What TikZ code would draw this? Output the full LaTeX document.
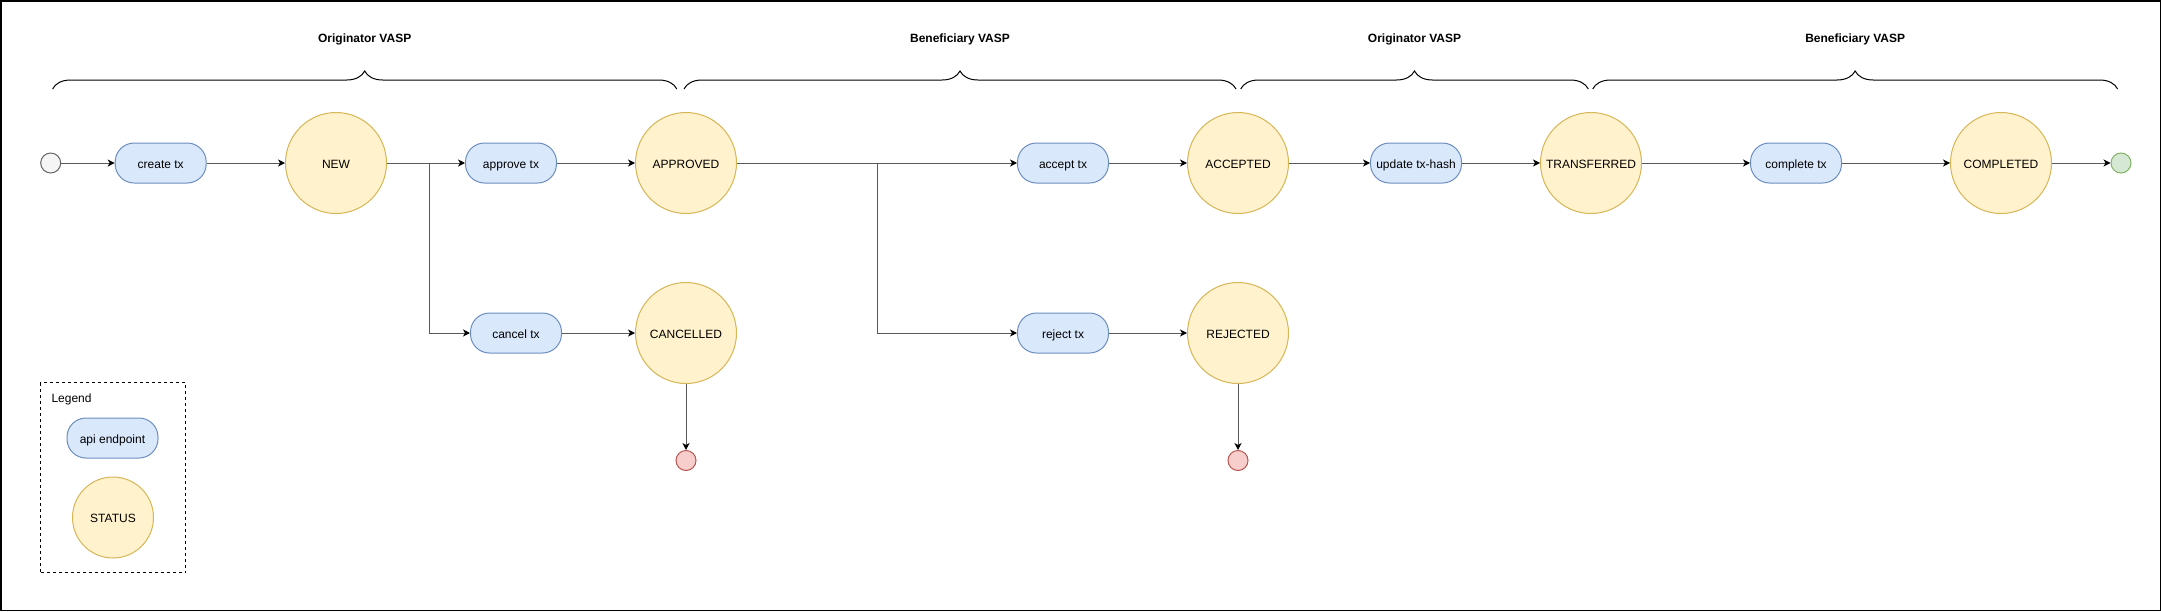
\documentclass[tikz,border=0pt]{standalone}
\usepackage{fontspec}
\setmainfont{Liberation Sans}
\usetikzlibrary{arrows.meta,decorations.pathreplacing}

\definecolor{apifill}{HTML}{DAE8FC}
\definecolor{apiline}{HTML}{6C8EBF}
\definecolor{statfill}{HTML}{FFF2CC}
\definecolor{statline}{HTML}{D6B656}
\definecolor{stopfill}{HTML}{F8CECC}
\definecolor{stopline}{HTML}{B85450}
\definecolor{donefill}{HTML}{D5E8D4}
\definecolor{doneline}{HTML}{82B366}
\definecolor{initfill}{HTML}{F5F5F5}
\definecolor{initline}{HTML}{666666}

\def\mainrow{163}
\def\sidrow{333}

\begin{document}
\begin{tikzpicture}[x=1pt,y=-1pt,line width=1pt,font=\fontsize{12pt}{14pt}\selectfont]
    \tikzstyle{edge}=[draw=black!65,-{Stealth[length=7pt,width=7pt,inset=2pt,color=black]}]
    \tikzstyle{label}=[text height=11pt,text depth=1pt]
    \tikzstyle{api}=[label,rectangle,rounded corners=19pt,draw=apiline,fill=apifill,minimum width=91pt,minimum height=40pt,inner sep=0pt]
    \tikzstyle{status}=[label,circle,draw=statline,fill=statfill,minimum size=101pt,inner sep=0pt]
    \tikzstyle{dot}=[circle,minimum size=20pt,inner sep=0pt]
    \tikzstyle{stop}=[dot,draw=stopline,fill=stopfill]
    \tikzstyle{brace}=[draw=black,decorate,decoration={brace,amplitude=18pt}]
    \tikzstyle{title}=[midway,yshift=50pt,font=\fontsize{12pt}{14pt}\selectfont\bfseries]

    \useasboundingbox (0,0) rectangle (2161,611);
    \draw[line width=1.5pt] (0.75,0.75) rectangle (2160.25,610.25);

    % swimlane braces
    \foreach \l/\r/\txt [count=\i] in {52.6/676.8/Originator VASP, 684/1236/Beneficiary VASP,
            1240.7/1588.3/Originator VASP, 1592.7/2117.6/Beneficiary VASP}
        \draw[brace] (\l,89) -- (\r,89) node[title] (lane-\i) {\txt};

    % api endpoints
    \foreach \name/\x/\txt in {create/160.7/create tx, approve/511/approve tx, accept/1063/accept tx,
            update/1416/update tx-hash, complete/1796/complete tx}
        \node[api] (\name) at (\x,\mainrow) {\txt};
    \foreach \name/\x/\txt in {cancel/516/cancel tx, reject/1063/reject tx}
        \node[api] (\name) at (\x,\sidrow) {\txt};

    % states
    \foreach \name/\x in {NEW/336, APPROVED/686, ACCEPTED/1238, TRANSFERRED/1591, COMPLETED/2001}
        \node[status] (\name) at (\x,\mainrow) {\name};
    \foreach \name/\x in {CANCELLED/686, REJECTED/1238}
        \node[status] (\name) at (\x,\sidrow) {\name};

    \node[dot,draw=initline,fill=initfill,left of=create,node distance=110pt] (start) {};
    \node[dot,draw=doneline,fill=donefill,right of=COMPLETED,node distance=120pt] (finish) {};
    \node[stop,below of=CANCELLED,node distance=127.5pt] (CANCELLED-end) {};
    \node[stop,below of=REJECTED,node distance=127.5pt] (REJECTED-end) {};

    \foreach \source/\dest in {start/create, create/NEW, NEW/approve, approve/APPROVED,
            accept/ACCEPTED, ACCEPTED/update, update/TRANSFERRED, TRANSFERRED/complete,
            complete/COMPLETED, COMPLETED/finish, APPROVED/accept,
            cancel/CANCELLED, reject/REJECTED, CANCELLED/CANCELLED-end, REJECTED/REJECTED-end}
        \draw[edge] (\source) -- (\dest);
    \draw[edge] (NEW.east) -- ++(42.5,0) |- (cancel);
    \draw[edge] (APPROVED.east) -- ++(140.3,0) |- (reject);

    % legend
    \node[draw=black,dashed,dash pattern=on 3pt off 3pt,minimum width=145pt,minimum height=190pt,inner sep=0pt]
        (legend) at (113.15,477.7) {};
    \node[anchor=west,inner sep=0pt] (legend-title) at (51,399) {Legend};
    \node[api] (legend-api) at (112.5,438) {api endpoint};
    \node[status,minimum size=81pt] (legend-status) at (113,517.5) {STATUS};
\end{tikzpicture}
\end{document}
